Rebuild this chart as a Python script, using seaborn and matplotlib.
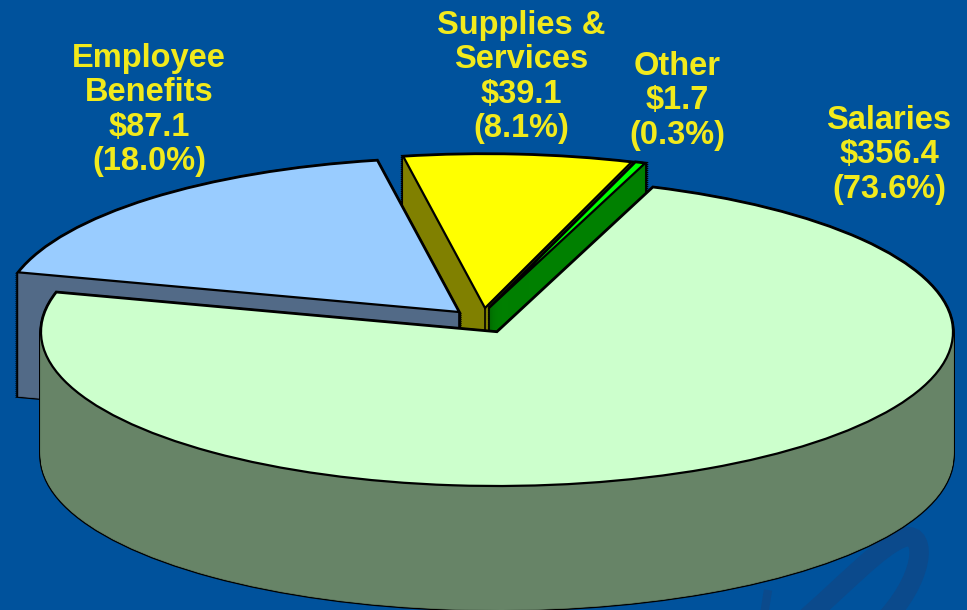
import matplotlib
matplotlib.use('Agg')
import matplotlib.pyplot as plt
import seaborn as sns
from matplotlib.path import Path
from matplotlib.patches import PathPatch

# values, $ millions, clockwise from the big slice
names = ['Salaries', 'Employee\nBenefits', 'Supplies &\nServices', 'Other']
amounts = [356.4, 87.1, 39.1, 1.7]
shares = [73.6, 18.0, 8.1, 0.3]

top_colors = sns.color_palette(['#CCFFCC', '#99CCFF', '#FFFF00', '#00FF00'])
side_colors = sns.color_palette(['#678467', '#526A87', '#808000', '#008000'])

W, H = 967, 610
RX, RY = 456, 154
CX, CY = 497, 332
DEPTH = 124
START = 70.0
K = RX / RY  # y squash, so circles come out as the flat ellipse

# where each slice tip sits relative to the pie centre, in pixels
offsets = [(0, 0), (-38, -20), (-12, -24), (-8, -24)]
label_xy = [(889, 155), (149, 110), (521, 77), (677, 101)]
draw_order = [2, 3, 1, 0]

sns.set_theme(style='white')
plt.rcParams['font.family'] = ['Liberation Sans', 'DejaVu Sans']

fig = plt.figure(figsize=(W / 100, H / 100), dpi=100, facecolor='#00529C')
ax = fig.add_axes([0, 0, 1, 1])
ax.set_facecolor('#00529C')


def yd(py):
    return (H - py) * K


def slice_at(i, px, py, **style):
    wedges, _ = ax.pie(amounts, startangle=START, counterclock=False, radius=RX,
                       center=(0, 0), wedgeprops=style)
    for j, w in enumerate(wedges):
        if j == i:
            w.set_center((px, yd(py)))
        else:
            w.remove()


# faint swirl in the backdrop
to_data = matplotlib.transforms.Affine2D().scale(1, -K).translate(0, H * K)
codes4 = [Path.MOVETO, Path.CURVE4, Path.CURVE4, Path.CURVE4, Path.CURVE4, Path.CURVE4, Path.CURVE4]
swirl = Path([(798, 625), (845, 585), (880, 545), (905, 537), (928, 532), (925, 580), (880, 625)], codes4)
ax.add_patch(PathPatch(swirl.transformed(to_data), fill=False, edgecolor='#0B4A8C', lw=14, zorder=0))
streak = Path([(768, 590), (764, 615)], [Path.MOVETO, Path.LINETO])
ax.add_patch(PathPatch(streak.transformed(to_data), fill=False, edgecolor='#0B4A8C', lw=6, zorder=0))

for i in draw_order:
    px = CX + offsets[i][0]
    py = CY + offsets[i][1]
    # black silhouette first, then the side fill on top of it
    for d in range(DEPTH, -1, -2):
        slice_at(i, px, py + d, facecolor='black', edgecolor='black', linewidth=2.4)
    for d in range(DEPTH, -1, -1):
        slice_at(i, px, py + d, facecolor=side_colors[i], edgecolor=side_colors[i], linewidth=0.5)
    if i != 0:
        ax.plot([px, px], [yd(py), yd(py + DEPTH)], color='black', lw=1.2, zorder=1)
    slice_at(i, px, py, facecolor=top_colors[i], edgecolor='black', linewidth=1.6)

ax.set_aspect('auto')
ax.set_xlim(0, W)
ax.set_ylim(0, H * K)
ax.axis('off')
ax.patch.set_visible(False)

for name, amt, pct, (lx, ly) in zip(names, amounts, shares, label_xy):
    ax.text(lx, yd(ly), f'{name}\n${amt:.1f}\n({pct:.1f}%)', ha='center', va='center',
            color='#F2EA1C', fontsize=23.5, fontweight='bold', linespacing=1.14, parse_math=False)

fig.savefig('out.png', dpi=100, facecolor=fig.get_facecolor())
